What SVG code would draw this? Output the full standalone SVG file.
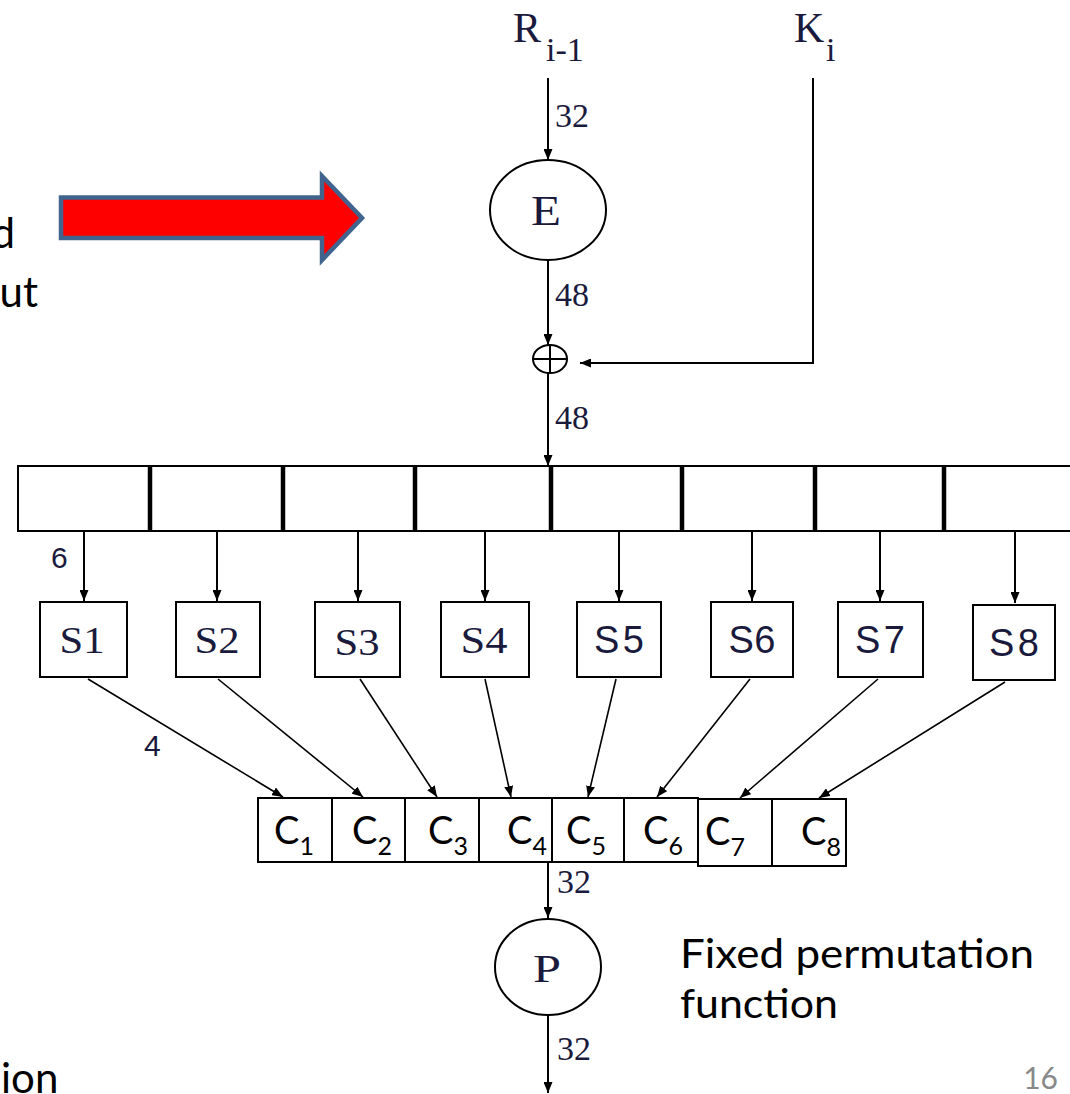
<svg xmlns="http://www.w3.org/2000/svg" width="1070" height="1094" viewBox="0 0 1070 1094">
  <style>
    .ln{stroke:#000;stroke-width:2;fill:none}
    .thin{stroke:#000;stroke-width:1.6;fill:none}
    .box{fill:#fff;stroke:#000;stroke-width:2}
    .div{stroke:#000;stroke-width:4.5}
    .serif{font-family:"Liberation Serif","Times New Roman",serif;fill:#1a1a3c}
    .sans{font-family:"Liberation Sans",Arial,sans-serif;fill:#1a1a3c}
    .cal{font-family:Lato,"Open Sans",sans-serif;fill:#000}
    .bits{font-family:"Liberation Serif","Times New Roman",serif;font-size:34px;fill:#1a1a3c}
    .sl{font-size:38px;text-anchor:middle}
    .cl{font-family:Lato,"Open Sans",sans-serif;font-size:38px;fill:#000}
    .sub{font-size:25px}
  </style>
  <defs>
    <marker id="ah" viewBox="0 0 11 9" refX="11" refY="4.5" markerWidth="11" markerHeight="9" markerUnits="userSpaceOnUse" orient="auto">
      <path d="M0,0 L11,4.5 L0,9 z" fill="#000"/>
    </marker>
  </defs>
  <rect width="1070" height="1094" fill="#fff"/>

  <!-- left-edge caption fragments -->
  <g id="side-notes" class="cal" font-size="42">
    <text x="15" y="248" text-anchor="end">d</text>
    <text x="38" y="307" text-anchor="end">ut</text>
    <text x="1" y="1093">ion</text>
  </g>

  <!-- big block arrow -->
  <g id="block-arrow">
    <polygon points="61,197.5 322,197.5 322,176 362,218 322,260 322,238 61,238" fill="#ff0000" stroke="#41648f" stroke-width="4.5" stroke-linejoin="miter"/>
  </g>

  <!-- inputs -->
  <g id="input-r">
    <text class="serif" x="513" y="42" font-size="42">R</text>
    <text class="serif" x="546" y="61" font-size="34">i-1</text>
  </g>
  <g id="input-k">
    <text class="serif" x="794" y="42" font-size="42">K</text>
    <text class="serif" x="826" y="61" font-size="34">i</text>
  </g>

  <!-- expansion E -->
  <g id="expansion-e">
    <ellipse cx="548" cy="210" rx="58" ry="50" class="box"/>
    <text class="serif" x="546" y="225" font-size="42" text-anchor="middle" textLength="30" lengthAdjust="spacingAndGlyphs">E</text>
  </g>

  <!-- xor -->
  <g id="xor">
    <ellipse cx="550" cy="359" rx="17" ry="14" class="box"/>
    <line x1="533" y1="359" x2="567" y2="359" class="ln"/>
    <line x1="550" y1="345" x2="550" y2="373" class="ln"/>
  </g>

  <!-- 48-bit register split into 8 groups of 6 -->
  <g id="register-48">
    <rect x="18" y="466" width="1070" height="65" class="box"/>
    <line x1="150" y1="466" x2="150" y2="531" class="div"/>
    <line x1="283" y1="466" x2="283" y2="531" class="div"/>
    <line x1="415" y1="466" x2="415" y2="531" class="div"/>
    <line x1="551" y1="466" x2="551" y2="531" class="div"/>
    <line x1="682" y1="466" x2="682" y2="531" class="div"/>
    <line x1="815" y1="466" x2="815" y2="531" class="div"/>
    <line x1="944" y1="466" x2="944" y2="531" class="div"/>
  </g>

  <!-- S-boxes -->
  <g id="sbox-1"><rect x="40" y="602" width="87" height="75" class="box"/><text class="serif sl" x="82" y="653" textLength="45" lengthAdjust="spacingAndGlyphs">S1</text></g>
  <g id="sbox-2"><rect x="176" y="602" width="84" height="75" class="box"/><text class="serif sl" x="217" y="653" textLength="45" lengthAdjust="spacingAndGlyphs">S2</text></g>
  <g id="sbox-3"><rect x="315" y="602" width="85" height="75" class="box"/><text class="serif sl" x="357" y="655" textLength="45" lengthAdjust="spacingAndGlyphs">S3</text></g>
  <g id="sbox-4"><rect x="441" y="602" width="88" height="75" class="box"/><text class="serif sl" x="484" y="653" textLength="47" lengthAdjust="spacingAndGlyphs">S4</text></g>
  <g id="sbox-5"><rect x="577" y="602" width="84" height="75" class="box"/><text class="sans sl" x="619" y="653" textLength="50" lengthAdjust="spacing">S5</text></g>
  <g id="sbox-6"><rect x="711" y="602" width="82" height="75" class="box"/><text class="sans sl" x="752" y="653" textLength="47" lengthAdjust="spacing">S6</text></g>
  <g id="sbox-7"><rect x="838" y="602" width="85" height="75" class="box"/><text class="sans sl" x="880" y="653" textLength="50" lengthAdjust="spacing">S7</text></g>
  <g id="sbox-8"><rect x="973" y="605" width="82" height="75" class="box"/><text class="sans sl" x="1014" y="656" textLength="50" lengthAdjust="spacing">S8</text></g>

  <!-- 32-bit S-box output -->
  <g id="c-1"><rect x="258" y="798" width="74" height="64" class="box"/><text class="cl" x="274" y="844">C<tspan class="sub" dy="11">1</tspan></text></g>
  <g id="c-2"><rect x="332" y="798" width="73" height="64" class="box"/><text class="cl" x="352" y="844">C<tspan class="sub" dy="11">2</tspan></text></g>
  <g id="c-3"><rect x="405" y="798" width="74" height="64" class="box"/><text class="cl" x="428" y="844">C<tspan class="sub" dy="11">3</tspan></text></g>
  <g id="c-4"><rect x="479" y="798" width="73" height="64" class="box"/><text class="cl" x="507" y="844">C<tspan class="sub" dy="11">4</tspan></text></g>
  <g id="c-5"><rect x="552" y="798" width="72" height="64" class="box"/><text class="cl" x="566" y="844">C<tspan class="sub" dy="11">5</tspan></text></g>
  <g id="c-6"><rect x="624" y="798" width="74" height="64" class="box"/><text class="cl" x="643" y="844">C<tspan class="sub" dy="11">6</tspan></text></g>
  <g id="c-7"><rect x="698" y="799" width="74" height="67" class="box" stroke-width="3"/><text class="cl" x="705" y="845">C<tspan class="sub" dy="11">7</tspan></text></g>
  <g id="c-8"><rect x="772" y="799" width="74" height="67" class="box"/><text class="cl" x="801" y="845">C<tspan class="sub" dy="11">8</tspan></text></g>

  <!-- permutation P -->
  <g id="perm-p">
    <ellipse cx="548" cy="967" rx="53" ry="48" class="box"/>
    <text class="serif" x="547" y="982" font-size="40" text-anchor="middle" textLength="28" lengthAdjust="spacingAndGlyphs">P</text>
  </g>

  <g id="perm-note" class="cal" font-size="40">
    <text x="680" y="968" textLength="354" lengthAdjust="spacingAndGlyphs">Fixed permutation</text>
    <text x="680" y="1018" textLength="158" lengthAdjust="spacingAndGlyphs">function</text>
  </g>
  <text id="page-number" x="1058" y="1089" font-family="Lato,'Open Sans',sans-serif" font-size="30" fill="#888" text-anchor="end">16</text>

  <!-- connectors -->
  <g id="connectors" marker-end="url(#ah)">
    <line x1="548" y1="78" x2="548" y2="160" class="ln"/>
    <line x1="548" y1="261" x2="548" y2="345" class="ln"/>
    <polyline points="813,78 813,363 580,363" class="ln"/>
    <line x1="548" y1="373" x2="548" y2="466" class="ln"/>

    <line x1="84" y1="531" x2="84" y2="601" class="ln"/>
    <line x1="217" y1="531" x2="217" y2="601" class="ln"/>
    <line x1="358" y1="531" x2="358" y2="601" class="ln"/>
    <line x1="485" y1="531" x2="485" y2="601" class="ln"/>
    <line x1="619" y1="531" x2="619" y2="601" class="ln"/>
    <line x1="752" y1="531" x2="752" y2="601" class="ln"/>
    <line x1="880" y1="531" x2="880" y2="601" class="ln"/>
    <line x1="1015" y1="531" x2="1015" y2="603" class="ln"/>

    <line x1="88" y1="679" x2="283" y2="797" class="thin"/>
    <line x1="218" y1="679" x2="363" y2="797" class="thin"/>
    <line x1="360" y1="679" x2="437" y2="797" class="thin"/>
    <line x1="485" y1="679" x2="511" y2="797" class="thin"/>
    <line x1="616" y1="679" x2="588" y2="797" class="thin"/>
    <line x1="750" y1="679" x2="657" y2="797" class="thin"/>
    <line x1="878" y1="679" x2="740" y2="798" class="thin"/>
    <line x1="1005" y1="682" x2="819" y2="798" class="thin"/>

    <line x1="548" y1="862" x2="548" y2="918" class="ln"/>
    <line x1="548" y1="1015" x2="548" y2="1093" class="ln"/>
  </g>

  <!-- bit-width labels -->
  <g id="bit-labels">
    <text class="bits" x="555" y="127">32</text>
    <text class="bits" x="555" y="306">48</text>
    <text class="bits" x="555" y="429">48</text>
    <text class="bits" x="557" y="893">32</text>
    <text class="bits" x="557" y="1060">32</text>
    <text class="sans" x="51" y="568" font-size="30">6</text>
    <text class="sans" x="144" y="756" font-size="30">4</text>
  </g>
</svg>
